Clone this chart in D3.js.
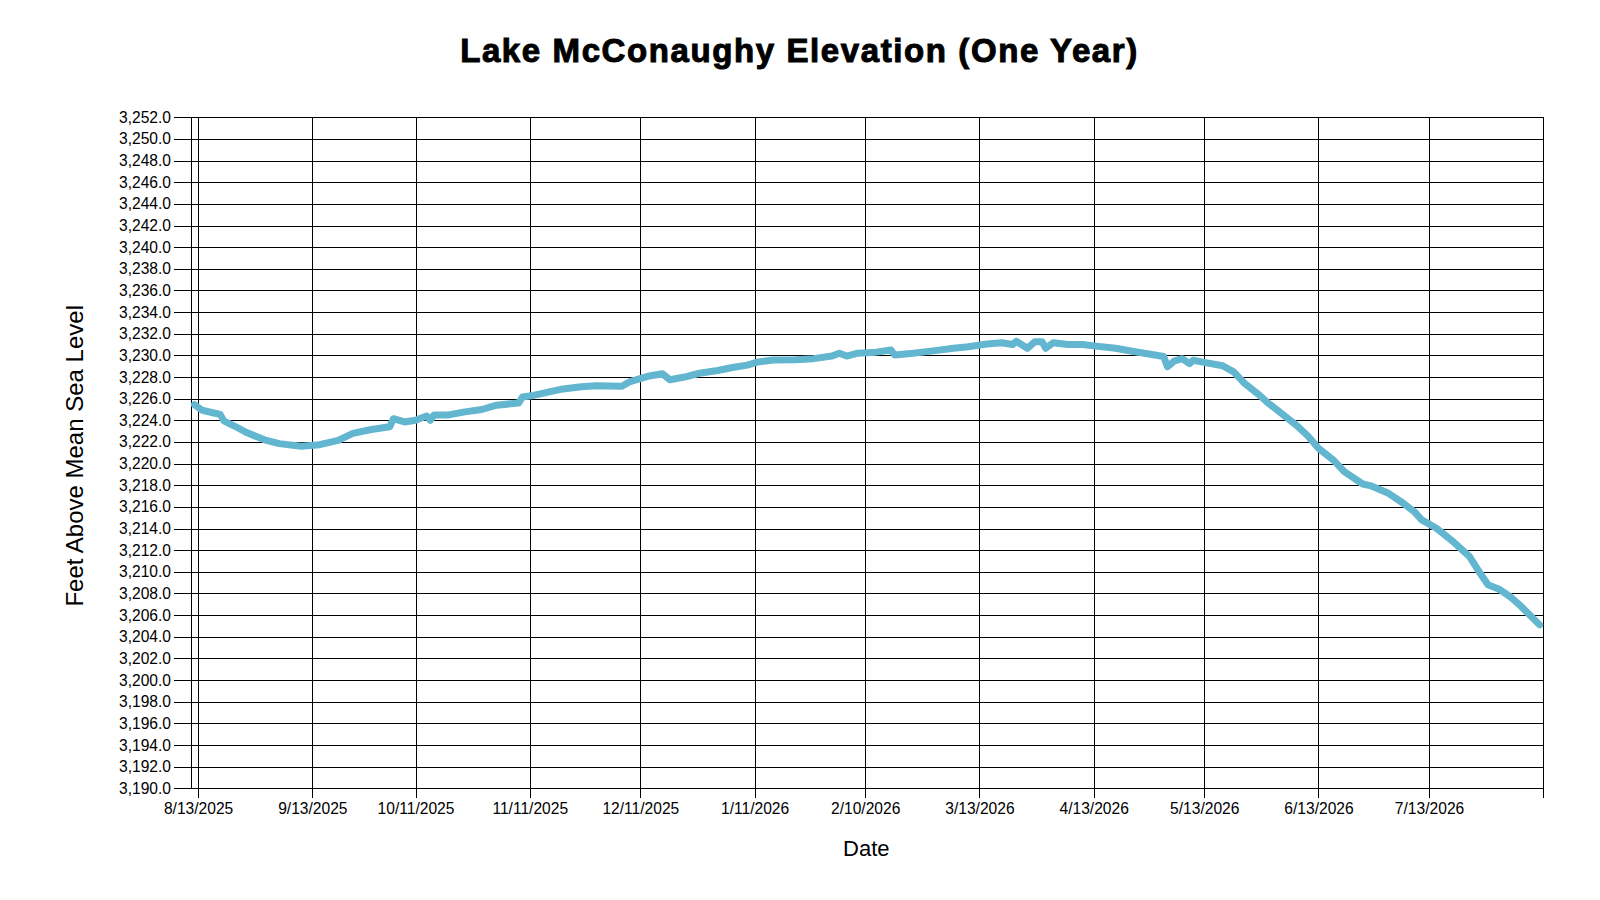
<!DOCTYPE html>
<html>
<head>
<meta charset="utf-8">
<script src="https://d3js.org/d3.v7.min.js"></script>
<style>
  body { margin: 0; background: #fff; }
  text { font-family: "Liberation Sans", Arial, sans-serif; fill: #000; }
  .grid line, .grid path { stroke: #000; stroke-width: 1; shape-rendering: crispEdges; }
  .line { fill: none; stroke: #63b6cf; stroke-width: 7; stroke-linejoin: round; stroke-linecap: round; }
</style>
</head>
<body>
<div id="graphed"></div>
<script>
// reading dates (m/d/yyyy) and lake elevation in feet
const readingDates = [
  "8/12/2025", "8/14/2025", "8/17/2025", "8/19/2025", "8/20/2025", "8/23/2025", "8/26/2025", "8/31/2025",
  "9/4/2025", "9/10/2025", "9/15/2025", "9/20/2025", "9/24/2025", "9/29/2025",
  "10/4/2025", "10/5/2025", "10/8/2025", "10/11/2025", "10/14/2025", "10/15/2025", "10/16/2025", "10/20/2025", "10/24/2025", "10/29/2025",
  "11/2/2025", "11/8/2025", "11/9/2025", "11/12/2025", "11/16/2025", "11/20/2025", "11/25/2025", "11/29/2025",
  "12/6/2025", "12/8/2025", "12/13/2025", "12/17/2025", "12/19/2025", "12/23/2025", "12/27/2025",
  "1/1/2026", "1/5/2026", "1/9/2026", "1/12/2026", "1/16/2026", "1/22/2026", "1/27/2026",
  "2/1/2026", "2/3/2026", "2/5/2026", "2/8/2026", "2/13/2026", "2/17/2026", "2/18/2026", "2/23/2026",
  "3/1/2026", "3/6/2026", "3/10/2026", "3/15/2026", "3/19/2026", "3/22/2026", "3/23/2026", "3/26/2026", "3/28/2026", "3/30/2026", "3/31/2026",
  "4/2/2026", "4/6/2026", "4/10/2026", "4/13/2026", "4/19/2026", "4/23/2026", "4/28/2026",
  "5/2/2026", "5/3/2026", "5/5/2026", "5/7/2026", "5/9/2026", "5/10/2026", "5/13/2026", "5/18/2026", "5/21/2026", "5/24/2026", "5/28/2026", "5/30/2026",
  "6/3/2026", "6/7/2026", "6/10/2026", "6/13/2026", "6/17/2026", "6/20/2026", "6/25/2026", "6/27/2026",
  "7/2/2026", "7/6/2026", "7/9/2026", "7/11/2026", "7/15/2026", "7/19/2026", "7/24/2026", "7/27/2026", "7/29/2026",
  "8/1/2026", "8/4/2026", "8/7/2026", "8/12/2026"
];

const elevations = [
  3225.45, 3224.95, 3224.7, 3224.55, 3223.95, 3223.45, 3222.9, 3222.2,
  3221.85, 3221.6, 3221.75, 3222.15, 3222.8, 3223.15,
  3223.4, 3224.15, 3223.85, 3224.0, 3224.4, 3224.0, 3224.5, 3224.5, 3224.76, 3225.0,
  3225.4, 3225.6, 3226.15, 3226.3, 3226.6, 3226.9, 3227.1, 3227.2,
  3227.15, 3227.55, 3228.07, 3228.3, 3227.75, 3228.0, 3228.35,
  3228.6, 3228.88, 3229.1, 3229.4, 3229.57, 3229.6, 3229.7,
  3229.94, 3230.2, 3229.94, 3230.2, 3230.3, 3230.5, 3230.04, 3230.2,
  3230.44, 3230.66, 3230.8, 3231.06, 3231.17, 3231.0, 3231.3, 3230.66, 3231.26, 3231.26, 3230.66,
  3231.17, 3231.0, 3231.0, 3230.88, 3230.66, 3230.41, 3230.13,
  3229.9, 3228.96, 3229.5, 3229.7, 3229.24, 3229.55, 3229.35, 3229.04, 3228.48, 3227.4, 3226.32, 3225.7,
  3224.63, 3223.55, 3222.6, 3221.42, 3220.34, 3219.26, 3218.12, 3217.97,
  3217.26, 3216.34, 3215.56, 3214.8, 3214.03, 3212.95, 3211.4, 3209.8, 3208.8,
  3208.4, 3207.7, 3206.8, 3205.1
];

// axis ticks
const xTickDates = [
  "8/13/2025", "9/13/2025", "10/11/2025", "11/11/2025", "12/11/2025", "1/11/2026",
  "2/10/2026", "3/13/2026", "4/13/2026", "5/13/2026", "6/13/2026", "7/13/2026"
];
const xDomain = ["8/11/2025", "8/13/2026"];
const yDomain = [3190, 3252];
const yTicks = d3.range(3190, 3253, 2);

const parseTime = d3.timeParse("%m/%d/%Y");
const formatTime = d3.timeFormat("%-m/%-d/%Y");

const createGraph = (data) => {
  // set the dimensions and margins of the graph
  let margin = { top: 117.3, left: 190.7 },
    width = 1352.6,
    height = 671;

  // set the ranges
  let x = d3.scaleTime().domain(xDomain.map(parseTime)).range([0, width]);
  let y = d3.scaleLinear().domain(yDomain).range([height, 0]);

  let svg = d3.select("#graphed").append("svg")
    .attr("width", 1600)
    .attr("height", 900);

  svg.append("text")
    .attr("x", 799.5)
    .attr("y", 61.7)
    .attr("text-anchor", "middle")
    .style("font-size", "33px")
    .style("font-weight", "bold")
    .style("letter-spacing", "1.6px")
    .style("stroke", "#000")
    .style("stroke-width", "1px")
    .text("Lake McConaughy Elevation (One Year)");

  let g = svg.append("g")
    .attr("transform", "translate(" + margin.left + "," + margin.top + ")");

  // horizontal gridlines + y labels (axis sits on the right edge, ticks run left)
  g.append("g")
    .attr("class", "grid")
    .attr("transform", "translate(" + width + ",0)")
    .call(d3.axisLeft(y)
      .tickValues(yTicks)
      .tickSizeInner(width + 16.7)
      .tickSizeOuter(0)
      .tickPadding(3)
      .tickFormat(d3.format(",.1f")))
    .selectAll("text")
    .style("font-size", "15.6px");

  // vertical gridlines + date labels (axis at top, ticks run down past the bottom)
  g.append("g")
    .attr("class", "grid")
    .call(d3.axisBottom(x)
      .tickValues(xTickDates.map(parseTime))
      .tickSizeInner(height + 9.4)
      .tickSizeOuter(0)
      .tickPadding(5)
      .tickFormat(formatTime))
    .selectAll("text")
    .style("font-size", "15.6px");

  // left axis line and right edge
  g.append("g")
    .attr("class", "grid")
    .call(d3.axisLeft(y).tickValues([]).tickSizeOuter(0));

  g.append("line")
    .attr("x1", width).attr("x2", width)
    .attr("y1", 0).attr("y2", height + 9.4)
    .style("stroke", "#000")
    .style("shape-rendering", "crispEdges");

  // define the line
  let valueline = d3.line()
    .x(d => x(d.date))
    .y(d => y(d.level));

  g.append("path")
    .data([data])
    .attr("class", "line")
    .attr("d", valueline);

  // axis titles
  svg.append("text")
    .attr("x", 866.3)
    .attr("y", 855.7)
    .attr("text-anchor", "middle")
    .style("font-size", "22px")
    .text("Date");

  svg.append("text")
    .attr("transform", "translate(82.7,455.8) rotate(-90)")
    .attr("text-anchor", "middle")
    .style("font-size", "24px")
    .text("Feet Above Mean Sea Level");
}

let data = readingDates.map((d, i) => ({ date: parseTime(d), level: elevations[i] }));
createGraph(data);
</script>
</body>
</html>
